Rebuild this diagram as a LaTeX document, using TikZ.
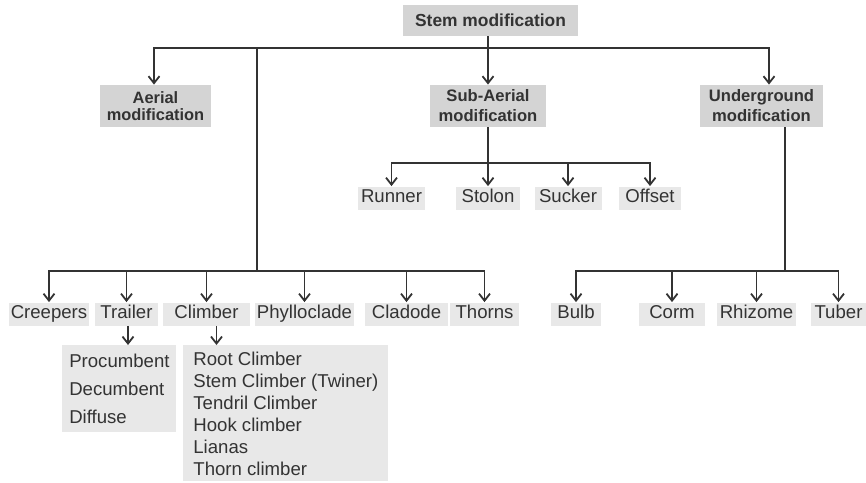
\documentclass[tikz,border=0pt]{standalone}
\usepackage{fontspec}
\setmainfont{Liberation Sans}
\usepackage{tikz}
\usetikzlibrary{
  arrows.meta,
  positioning,
  calc
}
\usepackage{xcolor}
\definecolor{boxGray}{rgb}{0.83,0.83,0.83}
\definecolor{leafGray}{rgb}{0.91,0.91,0.91}
\definecolor{inkGray}{rgb}{0.2,0.2,0.2}
\tikzset{
  head/.style={
    fill=boxGray,
    text=inkGray,
    font=\bfseries\fontsize{8.3}{10}\selectfont,
    align=center,
    inner sep=0pt
  },
  leaf/.style={
    fill=leafGray,
    text=inkGray,
    font=\fontsize{9.3}{11}\selectfont,
    inner sep=0pt,
    minimum height=11.5pt
  },
  leafword/.style={
    leaf,
    text height=6.8pt,
    text depth=1.9pt
  },
  branch/.style={
    draw=inkGray,
    line width=0.9pt
  }
}

\begin{document}
\begin{tikzpicture}[
      x=0.5pt, y=-0.5pt,
      >={Straight Barb[length=3.5pt,width=5.5pt]}
      ]
      \useasboundingbox (0,0) rectangle (866,482);

      % headings
      \node[head, minimum width=87.5pt, minimum height=15.5pt,
        font=\bfseries\fontsize{8.7}{10}\selectfont] (stem) at (490.5,20.5) {Stem modification};
      \node[head, minimum width=55.5pt, minimum height=21pt,
        font=\bfseries\fontsize{8.2}{8.2}\selectfont] (aerial) at (155.5,106) {Aerial\\modification};
      \node[head, minimum width=58pt, minimum height=21pt] (subaerial) at (488,106) {Sub-Aerial\\modification};
      \node[head, minimum width=61.5pt, minimum height=21pt] (under) at (761.5,106) {Underground\\modification};

      % leaves
      \foreach \nm/\txt/\x/\w in {runner/Runner/391.5/33.5pt, stolon/Stolon/488/32pt,
        sucker/Sucker/568/33.5pt, offset/Offset/650/31pt}{
        \node[leafword, minimum width=\w] (\nm) at (\x,198) {\txt};
      }
      \foreach \nm/\txt/\x/\w in {creepers/Creepers/49/40pt, trailer/Trailer/126.5/31.5pt,
        climber/Climber/206.5/43.5pt, phyllo/Phylloclade/304.5/49.5pt,
        cladode/Cladode/406.5/41.5pt, thorns/Thorns/484.5/34.5pt,
        bulb/Bulb/576/25pt, corm/Corm/672/33pt, rhizome/Rhizome/756.5/39.5pt,
        tuber/Tuber/838.5/27.5pt}{
        \node[leafword, minimum width=\w] (\nm) at (\x,314) {\txt};
      }
      \node[leaf, anchor=north west, minimum width=57pt, minimum height=43.5pt,
        align=left, font=\fontsize{9.3}{14}\selectfont] (trlist) at (62,345)
        {Procumbent\\Decumbent\\Diffuse};
      \node[leaf, anchor=north west, minimum width=102.5pt, minimum height=68pt,
        align=left] (cllist) at (183,345)
        {Root Climber\\Stem Climber (Twiner)\\Tendril Climber\\Hook climber\\Lianas\\Thorn climber};

      % joints
      \coordinate (topbar) at (488,48);
      \coordinate (aejoin) at (257,271);
      \coordinate (sajoin) at (488,163);
      \coordinate (ugjoin) at (785,271);

      \draw[branch] (stem.south -| topbar) -- (topbar);
      \draw[branch,->] (topbar) -| ([xshift=-0.75pt]aerial.north);
      \draw[branch,->] (topbar) -- (subaerial);
      \draw[branch,->] (topbar) -| ([xshift=3.75pt]under.north);
      \draw[branch] (topbar) -| (aejoin);

      \draw[branch] (subaerial) -- (sajoin);
      \foreach \nm in {runner, stolon, sucker, offset}{
        \draw[branch,->] (sajoin) -| (\nm);
      }
      \draw[branch] (under.south -| ugjoin) -- (ugjoin);
      \foreach \nm in {bulb, corm, rhizome, tuber}{
        \draw[branch,->] (ugjoin) -| (\nm);
      }
      \foreach \nm in {creepers, trailer, climber, phyllo, cladode, thorns}{
        \draw[branch,->] (aejoin) -| (\nm);
      }
      \draw[branch,->] ([xshift=0.75pt]trailer.south) -- ([xshift=0.75pt]trailer.south |- trlist.north);
      \draw[branch,->] ([xshift=5pt]climber.south) -- ([xshift=5pt]climber.south |- cllist.north);
    \end{tikzpicture}
\end{document}
